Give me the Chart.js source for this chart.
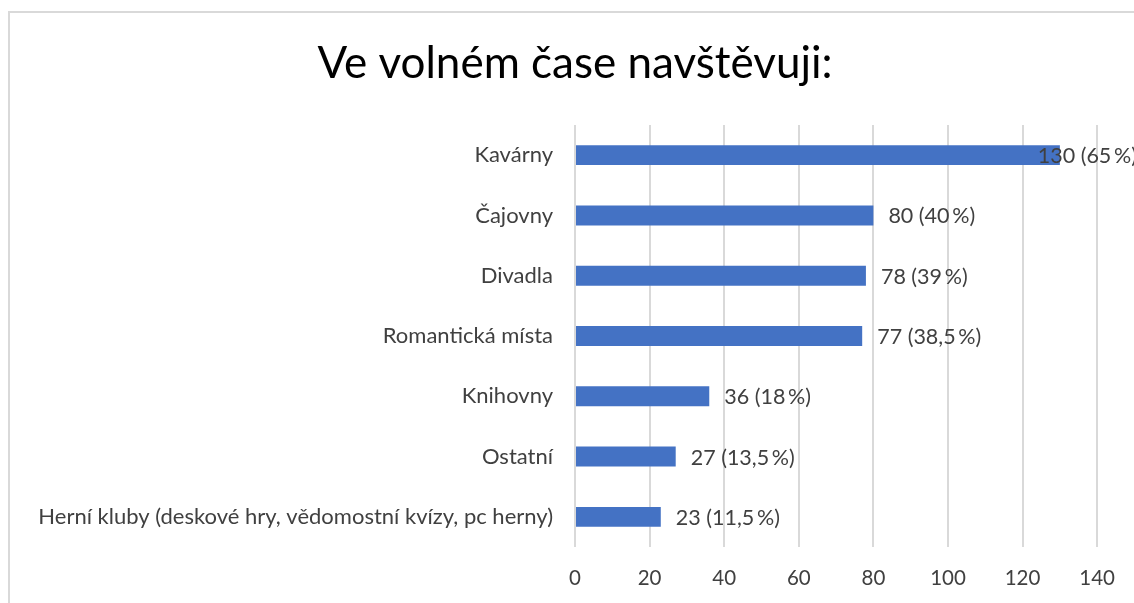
<!DOCTYPE html>
<html>
<head>
<meta charset="utf-8">
<script src="https://cdn.jsdelivr.net/npm/chart.js@4/dist/chart.umd.min.js"></script>
<style>
    html, body { margin: 0; padding: 0; background: #fff; }
    #wrap { position: relative; width: 1134px; height: 603px; overflow: hidden; }
    #frame { position: absolute; left: 8px; top: 11px; width: 1200px; height: 700px; border: 2px solid #d9d9d9; }
    #chart { position: absolute; left: 0; top: 0; }
</style>
</head>
<body>
<div id="wrap">
    <div id="frame"></div>
    <canvas id="chart" width="1134" height="603"></canvas>
</div>
<script>
    const FONT = 'Lato, "Open Sans", sans-serif';

    const TITLE = 'Ve volném čase navštěvuji:';

    const categories = [
        'Kavárny',
        'Čajovny',
        'Divadla',
        'Romantická místa',
        'Knihovny',
        'Ostatní',
        'Herní kluby (deskové hry, vědomostní kvízy, pc herny)'
    ];
    const values = [130, 80, 78, 77, 36, 27, 23];
    const percents = ['65', '40', '39', '38,5', '18', '13,5', '11,5'];

    const xMin = 0;
    const xMax = 140;
    const xStep = 20;

    // the chart frame runs past the right edge, so the title is centred on the frame, not the canvas
    const frameTitle = {
        id: 'frameTitle',
        afterDraw(chart) {
            const ctx = chart.ctx;
            ctx.save();
            ctx.font = '44px ' + FONT;
            ctx.fillStyle = '#000';
            ctx.textAlign = 'center';
            ctx.textBaseline = 'middle';
            ctx.fillText(TITLE, chart.width / 2 + 8, 64);
            ctx.restore();
        }
    };

    // labels "value (pct %)" next to bar ends, pulled back inside if they would leave the canvas
    const valueLabels = {
        id: 'valueLabels',
        afterDatasetsDraw(chart) {
            const ctx = chart.ctx;
            const meta = chart.getDatasetMeta(0);
            ctx.save();
            ctx.font = '21.5px ' + FONT;
            ctx.fillStyle = '#404040';
            ctx.textBaseline = 'middle';
            meta.data.forEach((bar, i) => {
                const text = values[i] + ' (' + percents[i] + '\u2009%)';
                const w = ctx.measureText(text).width;
                const x = Math.min(bar.x + 15, chart.width - w + 3);
                ctx.fillText(text, x, bar.y + 1);
            });
            ctx.restore();
        }
    };

    new Chart(document.getElementById('chart'), {
        type: 'bar',
        data: {
            labels: categories,
            datasets: [{
                data: values,
                backgroundColor: '#4472c4',
                borderWidth: 0,
                barPercentage: 0.33,
                categoryPercentage: 1
            }]
        },
        plugins: [valueLabels, frameTitle],
        options: {
            indexAxis: 'y',
            responsive: false,
            animation: false,
            layout: {
                padding: { left: 8, right: 36, top: 125, bottom: 0 }
            },
            plugins: {
                legend: { display: false },
                tooltip: { enabled: false },
                title: { display: false }
            },
            scales: {
                x: {
                    min: xMin,
                    max: xMax,
                    ticks: {
                        stepSize: xStep,
                        color: '#404040',
                        font: { family: FONT, size: 20.5 },
                        padding: 19
                    },
                    grid: {
                        color: '#d9d9d9',
                        lineWidth: 2,
                        drawTicks: false
                    },
                    border: { display: false },
                    afterFit: (scale) => { scale.height = 56; }
                },
                y: {
                    ticks: {
                        color: '#404040',
                        font: { family: FONT, size: 22 },
                        padding: 14
                    },
                    grid: { display: false },
                    border: { display: false },
                    afterFit: (scale) => { scale.width = 567; }
                }
            }
        }
    });
</script>
</body>
</html>
